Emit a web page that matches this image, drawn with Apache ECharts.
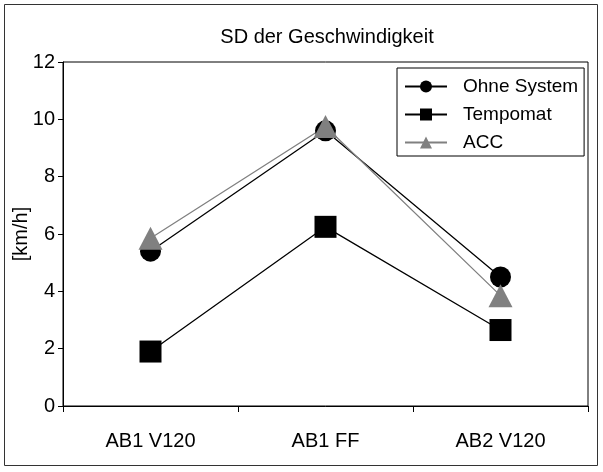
<!DOCTYPE html>
<html>
<head>
<meta charset="utf-8">
<script src="https://cdn.jsdelivr.net/npm/echarts@6/dist/echarts.min.js"></script>
<style>
  html, body { margin: 0; padding: 0; background: #fff; }
  #chart { width: 603px; height: 472px; }
</style>
</head>
<body>
<div id="chart"></div>
<script>
// Categories (test sections) and standard deviation of speed per condition
const categories = ['AB1 V120', 'AB1 FF', 'AB2 V120'];
const ohneSystem = [5.4, 9.6, 4.5];
const tempomat = [1.9, 6.25, 2.65];
const acc = [5.85, 9.75, 3.85];
const yTicks = { min: 0, max: 12, interval: 2 };

const font = 'Liberation Sans, Arial, sans-serif';
const chart = echarts.init(document.getElementById('chart'), null, { renderer: 'canvas' });

chart.setOption({
  backgroundColor: '#fff',
  animation: false,
  title: {
    text: 'SD der Geschwindigkeit',
    left: 322,
    textAlign: 'center',
    top: 22,
    textStyle: { fontFamily: font, fontSize: 20, fontWeight: 'normal', color: '#000' }
  },
  graphic: [{
    type: 'rect',
    shape: { x: 4.5, y: 4.5, width: 593, height: 461 },
    style: { fill: 'none', stroke: '#333', lineWidth: 1 },
    silent: true
  }],
  grid: {
    left: 63, right: 15, top: 62, bottom: 66,
    outerBoundsMode: 'none',
    containLabel: false,
    show: true, borderColor: '#000', borderWidth: 1, backgroundColor: 'transparent'
  },
  legend: {
    orient: 'vertical',
    left: 397,
    top: 68,
    padding: [9, 6, 4, 7],
    itemWidth: 42,
    itemHeight: 15,
    itemGap: 9,
    borderColor: '#000',
    borderWidth: 1,
    backgroundColor: '#fff',
    textStyle: { fontFamily: font, fontSize: 19, color: '#000', padding: [0, 0, 0, 11] },
    data: ['Ohne System', 'Tempomat', 'ACC']
  },
  xAxis: {
    type: 'category',
    data: categories,
    boundaryGap: true,
    axisLine: { lineStyle: { color: '#000', width: 1 } },
    axisTick: { show: true, length: 6, inside: false, lineStyle: { color: '#000' } },
    axisLabel: { fontFamily: font, fontSize: 20, color: '#000', margin: 25 },
    splitLine: { show: false }
  },
  yAxis: {
    type: 'value',
    min: yTicks.min, max: yTicks.max, interval: yTicks.interval,
    name: '[km/h]',
    nameLocation: 'middle',
    nameGap: 32,
    nameMoveOverlap: false,
    nameRotate: 90,
    nameTextStyle: { fontFamily: font, fontSize: 20, color: '#000' },
    axisLine: { show: true, lineStyle: { color: '#000', width: 1 } },
    axisTick: { show: true, length: 5, lineStyle: { color: '#000' } },
    axisLabel: { fontFamily: font, fontSize: 20, color: '#000', margin: 8 },
    splitLine: { show: false }
  },
  series: [
    {
      name: 'Ohne System', type: 'line', data: ohneSystem,
      symbol: 'circle', symbolSize: 21,
      lineStyle: { color: '#000', width: 1.3 },
      itemStyle: { color: '#000' }
    },
    {
      name: 'Tempomat', type: 'line', data: tempomat,
      symbol: 'rect', symbolSize: 22,
      lineStyle: { color: '#000', width: 1.3 },
      itemStyle: { color: '#000' }
    },
    {
      name: 'ACC', type: 'line', data: acc,
      symbol: 'triangle', symbolSize: [24, 23],
      lineStyle: { color: '#808080', width: 1.3 },
      itemStyle: { color: '#808080' }
    }
  ]
});
</script>
</body>
</html>
